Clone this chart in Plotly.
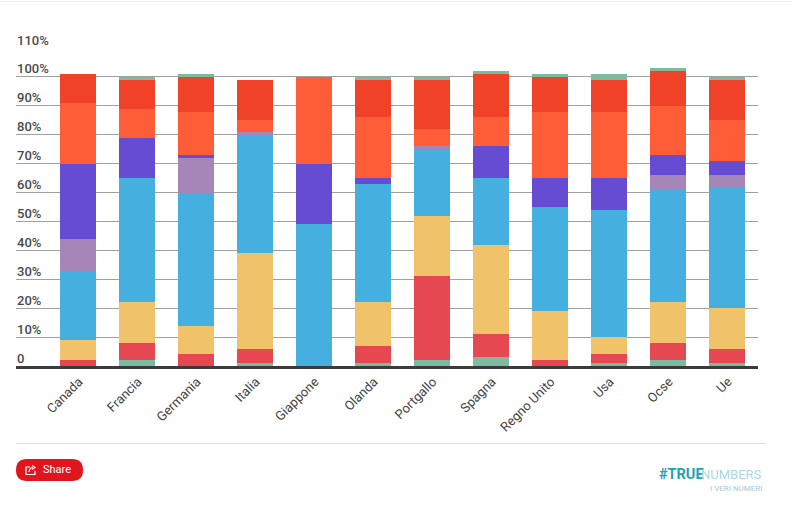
import plotly.graph_objects as go

W, H = 792, 518

categories = ["Canada", "Francia", "Germania", "Italia", "Giappone", "Olanda",
              "Portgallo", "Spagna", "Regno Unito", "Usa", "Ocse", "Ue"]

green_low = [0, 2, 0, 1, 0, 1, 2, 3, 0, 1, 2, 1]
red       = [2, 6, 4, 5, 0, 6, 29, 8, 2, 3, 6, 5]
yellow    = [7, 14, 10, 33, 0, 15, 21, 31, 17, 6, 14, 14]
blue      = [24, 43, 46, 41, 49, 41, 23, 23, 36, 44, 39, 42]
mauve     = [11, 0, 12, 1, 0, 0, 1, 0, 0, 0, 5, 4]
purple    = [26, 14, 1, 0, 21, 2, 0, 11, 10, 11, 7, 5]
orange    = [21, 10, 15, 4, 30, 21, 6, 10, 23, 23, 17, 14]
dark_red  = [10, 10, 12, 14, 0, 13, 17, 15, 12, 11, 12, 14]
green_top = [0, 1, 1, 0, 0, 1, 1, 1, 1, 2, 1, 1]

tick_vals = [0, 10, 20, 30, 40, 50, 60, 70, 80, 90, 100, 110]
tick_text = ["0", "10%", "20%", "30%", "40%", "50%", "60%", "70%", "80%", "90%", "100%", "110%"]

series = [
    ("green_low", green_low, "#7CBBA0"),
    ("red", red, "#E54850"),
    ("yellow", yellow, "#F0C36A"),
    ("blue", blue, "#45AFDF"),
    ("mauve", mauve, "#A686B8"),
    ("purple", purple, "#664BD3"),
    ("orange", orange, "#FF5C38"),
    ("dark_red", dark_red, "#F04229"),
    ("green_top", green_top, "#7CBBA0"),
]

L, R, T, B = 16, 758, 48, 366
TEXT = "#4A4A4A"
FONT = "Roboto, sans-serif"


def px(x):
    return (x - L) / (R - L)


def py(y):
    return (B - y) / (B - T)


fig = go.Figure()
for name, vals, col in series:
    fig.add_trace(go.Bar(name=name, x=categories, y=vals, marker=dict(color=col, line_width=0),
                         width=0.61, hoverinfo="x+y"))

shapes = []
shapes.append(dict(type="line", xref="paper", yref="paper", x0=px(16), x1=px(766), y0=py(443.5), y1=py(443.5),
                   line=dict(color="#DDDDDD", width=1)))
shapes.append(dict(type="line", xref="paper", yref="paper", x0=px(0), x1=px(792), y0=py(1.5), y1=py(1.5),
                   line=dict(color="#F2F2F2", width=1)))
x0, x1, y0, y1 = 16, 83, 459, 481
r = 11
pill = (f"M {px(x0+r)} {py(y0)} L {px(x1-r)} {py(y0)} "
        f"Q {px(x1)} {py(y0)} {px(x1)} {py(y0+r)} Q {px(x1)} {py(y1)} {px(x1-r)} {py(y1)} "
        f"L {px(x0+r)} {py(y1)} Q {px(x0)} {py(y1)} {px(x0)} {py(y0+r)} Q {px(x0)} {py(y0)} {px(x0+r)} {py(y0)} Z")
shapes.append(dict(type="path", xref="paper", yref="paper", path=pill, fillcolor="#E0161F", line_width=0))
icon = (f"M {px(30)} {py(467)} L {px(26)} {py(467)} L {px(26)} {py(474.5)} L {px(35)} {py(474.5)} L {px(35)} {py(471)} "
        f"M {px(29)} {py(472)} Q {px(29.5)} {py(467.5)} {px(33)} {py(467.5)} "
        f"M {px(32)} {py(465.5)} L {px(35)} {py(467.5)} L {px(32)} {py(469.5)}")
shapes.append(dict(type="path", xref="paper", yref="paper", path=icon, line=dict(color="white", width=1.2)))

annotations = [
    dict(text="Share", xref="paper", yref="paper", x=px(41), y=py(469.5), xanchor="left", yanchor="middle",
         showarrow=False, font=dict(family=FONT, size=11, color="white")),
    dict(text="<b>#TRUE</b>", xref="paper", yref="paper", x=px(658), y=py(474), xanchor="left", yanchor="middle",
         showarrow=False, borderpad=0, font=dict(family=FONT, size=14.5, color="#1FA3B2")),
    dict(text="NUMBERS", xref="paper", yref="paper", x=px(763), y=py(474), xanchor="right", yanchor="middle",
         showarrow=False, borderpad=0, font=dict(family=FONT, size=13, color="#A9D8DE")),
    dict(text="I VERI NUMERI", xref="paper", yref="paper", x=px(763), y=py(488), xanchor="right", yanchor="middle",
         showarrow=False, borderpad=0, font=dict(family=FONT, size=8, color="#A9C9CF")),
]
for v, t in zip(tick_vals, tick_text):
    annotations.append(dict(text=t, xref="paper", yref="y", x=0, y=v, xanchor="left", yanchor="middle",
                            yshift=8, showarrow=False, borderpad=0,
                            font=dict(family=FONT, size=13, color=TEXT, weight=500)))

fig.update_layout(
    barmode="stack",
    width=W, height=H,
    margin=dict(l=L, r=W - R, t=T, b=H - B, pad=0),
    paper_bgcolor="white", plot_bgcolor="white",
    showlegend=False,
    font=dict(family=FONT, size=13, color=TEXT),
    shapes=shapes,
    annotations=annotations,
    xaxis=dict(
        type="category", categoryorder="array", categoryarray=categories,
        range=[-1.05, 11.525], tickangle=-45, ticks="", showgrid=False,
        showline=True, linecolor="#3B3B3B", linewidth=3,
        ticklabelshift=1,
        tickfont=dict(family=FONT, size=13, color="#444444"),
        automargin=False,
    ),
    yaxis=dict(
        range=[0, 110], tickvals=tick_vals, showticklabels=False,
        showgrid=True, gridcolor="#A0A0A0", gridwidth=1, zeroline=False, ticks="",
        automargin=False,
    ),
)

fig.write_html("out.html", config=dict(displayModeBar=False), post_script="document.body.style.margin='0';")
